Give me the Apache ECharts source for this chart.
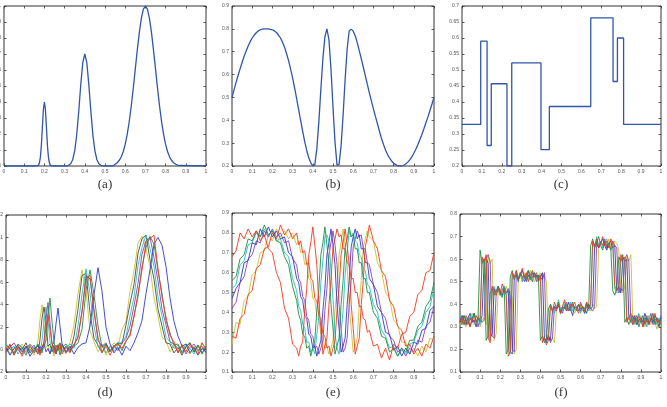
<!DOCTYPE html>
<html>
<head>
<meta charset="utf-8">
<script src="https://cdn.jsdelivr.net/npm/echarts@6/dist/echarts.min.js"></script>
<style>
html, body { margin: 0; background: #fff; }
#main { width: 667px; height: 407px; }
</style>
</head>
<body>
<div id="main"></div>
<script>
// ---- shared sample grid (b, f) ----
var x100 = [0,0.01,0.02,0.03,0.04,0.05,0.06,0.07,0.08,0.09,0.1,0.11,0.12,0.13,0.14,0.15,0.16,0.17,0.18,0.19,
  0.2,0.21,0.22,0.23,0.24,0.25,0.26,0.27,0.28,0.29,0.3,0.31,0.32,0.33,0.34,0.35,0.36,0.37,0.38,0.39,
  0.4,0.41,0.42,0.43,0.44,0.45,0.46,0.47,0.48,0.49,0.5,0.51,0.52,0.53,0.54,0.55,0.56,0.57,0.58,0.59,
  0.6,0.61,0.62,0.63,0.64,0.65,0.66,0.67,0.68,0.69,0.7,0.71,0.72,0.73,0.74,0.75,0.76,0.77,0.78,0.79,
  0.8,0.81,0.82,0.83,0.84,0.85,0.86,0.87,0.88,0.89,0.9,0.91,0.92,0.93,0.94,0.95,0.96,0.97,0.98,0.99,1];

// ---- (a) bumps ----
var aX = [0,0.16,0.17,0.175,0.18,0.185,0.19,0.195,0.2,0.205,0.21,0.215,0.22,0.225,0.23,0.24,
  0.31,0.32,0.33,0.34,0.35,0.36,0.37,0.38,0.39,0.4,0.41,0.42,0.43,0.44,0.45,0.46,0.47,0.48,0.49,
  0.54,0.55,0.56,0.57,0.58,0.59,0.6,0.61,0.62,0.63,0.64,0.65,0.66,0.67,0.68,0.69,0.7,0.71,0.72,0.73,
  0.74,0.75,0.76,0.77,0.78,0.79,0.8,0.81,0.82,0.83,0.84,0.85,0.86,0.87,1];
var aY = [0,0,0.004,0.018,0.054,0.13,0.243,0.353,0.4,0.353,0.243,0.13,0.054,0.018,0.004,0,
  0,0.004,0.014,0.039,0.095,0.195,0.341,0.508,0.646,0.7,0.646,0.508,0.341,0.195,0.095,0.039,0.014,0.004,0,
  0,0.011,0.02,0.034,0.056,0.089,0.135,0.198,0.278,0.375,0.487,0.607,0.726,0.835,0.923,0.98,1,0.98,0.923,0.835,
  0.726,0.607,0.487,0.375,0.278,0.198,0.135,0.089,0.056,0.034,0.02,0.011,0.006,0.003,0];

// ---- (b) chirp ----
var bY = [0.5,0.533,0.565,0.596,0.625,0.653,0.68,0.703,0.725,0.744,
  0.76,0.773,0.783,0.791,0.796,0.799,0.8,0.8,0.8,0.798,
  0.796,0.791,0.784,0.773,0.76,0.742,0.72,0.692,0.661,0.625,
  0.586,0.542,0.495,0.446,0.398,0.351,0.307,0.268,0.236,0.214,
  0.201,0.206,0.276,0.394,0.536,0.67,0.766,0.8,0.752,0.624,
  0.457,0.304,0.204,0.206,0.288,0.422,0.578,0.712,0.79,0.799,
  0.79,0.77,0.74,0.705,0.67,0.632,0.595,0.557,0.52,0.485,
  0.45,0.417,0.385,0.352,0.32,0.294,0.27,0.25,0.235,0.222,
  0.212,0.206,0.202,0.2,0.2,0.203,0.209,0.217,0.227,0.24,
  0.256,0.273,0.293,0.315,0.338,0.363,0.389,0.415,0.443,0.471,
  0.5];

// ---- (c) blocks ----
var cX = [0,0.094,0.126,0.147,0.226,0.25,0.397,0.439,0.647,0.759,0.781,0.812,1];
var cY = [0.33,0.59,0.264,0.457,0.2,0.522,0.251,0.386,0.663,0.464,0.6,0.33,0.33];

// ---- (d) noisy shifted bumps ----
var dX = [0,0.02,0.04,0.06,0.08,0.1,0.12,0.14,0.16,0.17,0.18,0.19,0.2,0.21,0.22,0.23,0.24,0.25,0.26,0.27,0.28,
  0.3,0.32,0.34,0.36,0.38,0.4,0.42,0.44,0.46,0.48,0.5,0.52,0.54,0.56,0.58,0.6,0.62,0.64,0.66,0.68,
  0.7,0.72,0.74,0.76,0.78,0.8,0.82,0.84,0.86,0.88,0.9,0.92,0.94,0.96,0.98,1];
var dYellow = [0.03,-0.04,0.02,-0.01,0.05,-0.03,0.01,-0.05,0.08,0.27,0.4,0.22,0.02,0.04,-0.03,0.02,-0.06,0.01,0.05,-0.02,0.03,
  -0.04,0.06,0.22,0.5,0.71,0.52,0.17,0.07,-0.02,0.04,-0.05,0.02,0.06,0.03,0.18,0.25,0.52,0.7,0.95,1.01,
  0.9,0.74,0.46,0.3,0.11,0.08,-0.02,0.04,-0.03,0.05,0,-0.04,0.03,-0.02,0.06,0.01];
var dGray = [-0.02,0.04,-0.05,0.02,0,0.06,-0.03,0.02,-0.04,0.09,0.28,0.38,0.26,0.03,0.05,-0.02,0.03,-0.04,0.02,0.06,-0.01,
  0.03,-0.02,0.12,0.36,0.66,0.68,0.33,0.1,0.04,-0.03,0.05,-0.01,0.03,0.06,0.05,0.22,0.41,0.58,0.86,0.99,
  1.02,0.8,0.63,0.36,0.21,0.06,0.05,-0.03,0.02,-0.05,0.03,0.06,-0.02,0.04,-0.03,0.02];
var dCyan = [0.05,0,0.03,-0.04,0.02,-0.02,0.05,0.01,0.03,-0.02,0.08,0.25,0.38,0.26,0.07,-0.01,0.04,-0.03,0.01,0.05,-0.02,
  0.02,0.05,0.01,0.21,0.49,0.72,0.5,0.21,0.02,0.05,-0.03,0.03,-0.01,0.04,0.07,0.12,0.3,0.47,0.75,0.91,
  1.02,0.9,0.74,0.47,0.3,0.11,0.07,0.01,0.04,-0.02,0.05,0.01,-0.04,0.03,0,0.04];
var dMagenta = [-0.03,0.02,0.06,0,-0.04,0.03,-0.01,0.04,-0.02,0.03,-0.01,0.07,0.27,0.42,0.24,0.05,0.02,-0.04,0.03,0,0.05,
  -0.03,0.02,0.04,0.12,0.33,0.66,0.63,0.36,0.08,0.03,0.06,-0.02,0.04,-0.01,0.06,0.1,0.21,0.39,0.59,0.85,
  0.97,1,0.82,0.61,0.36,0.22,0.07,0.05,-0.02,0.03,-0.04,0.02,0.05,-0.01,0.03,-0.03];
var dBlue = [0.02,-0.05,0.01,0.04,-0.02,0.03,-0.06,0,0.04,-0.03,0.02,0.05,-0.02,0.01,-0.04,0.03,0.07,0.23,0.37,0.21,0.05,
  -0.02,0.03,-0.04,0.02,0.05,0.06,0.21,0.49,0.73,0.52,0.2,0.05,-0.03,0.02,-0.05,0.03,-0.01,0.06,0.15,0.26,
  0.5,0.71,0.94,1,0.93,0.74,0.46,0.25,0.12,0.03,0.05,-0.03,0.02,-0.05,0.01,-0.02];
var dGreen = [0.04,0.01,-0.03,0.05,0.02,-0.05,0.03,-0.02,0.05,0,-0.03,0.04,0.08,0.29,0.46,0.25,0.07,-0.02,0.04,-0.05,0.02,
  0.05,-0.01,0.03,0.06,0.18,0.53,0.71,0.49,0.21,0.02,0.05,-0.02,0.03,0.06,-0.01,0.07,0.14,0.3,0.47,0.74,
  0.91,1.01,0.94,0.7,0.5,0.26,0.15,0.04,0.05,-0.03,0.02,0.06,-0.02,0.04,-0.04,0.03];
var dRed = [-0.01,0.05,-0.04,0.03,-0.06,0.02,0.04,-0.03,0.01,-0.05,0.03,0.06,0.2,0.31,0.18,0.06,-0.03,0.04,-0.01,0.05,-0.04,
  0.02,-0.03,0.05,0.1,0.35,0.63,0.66,0.33,0.11,-0.02,0.03,-0.05,0.02,0.05,0.01,0.08,0.12,0.29,0.5,0.71,
  0.95,0.99,1.02,0.72,0.47,0.29,0.12,0.07,-0.03,0.04,-0.02,0.05,0.01,-0.04,0.06,0];

// ---- (e) noisy shifted chirps ----
var eX = [0,0.02,0.04,0.06,0.08,0.1,0.12,0.14,0.16,0.18,0.2,0.22,0.24,0.26,0.28,0.3,0.32,
  0.33,0.34,0.35,0.36,0.37,0.38,0.39,0.4,0.41,0.42,0.43,0.44,0.45,0.46,0.47,0.48,0.49,0.5,
  0.51,0.52,0.53,0.54,0.55,0.56,0.57,0.58,0.59,0.6,0.61,0.62,0.63,0.64,0.65,0.66,0.67,0.68,
  0.7,0.72,0.74,0.76,0.78,0.8,0.82,0.84,0.86,0.88,0.9,0.92,0.94,0.96,0.98,1];
var eYellow = [0.24,0.35,0.34,0.46,0.48,0.59,0.61,0.7,0.71,0.79,0.76,0.82,0.78,0.81,0.77,0.8,0.74,
  0.76,0.7,0.71,0.64,0.65,0.57,0.56,0.47,0.46,0.38,0.37,0.29,0.28,0.22,0.23,0.19,0.22,0.26,
  0.41,0.52,0.69,0.75,0.82,0.74,0.64,0.44,0.32,0.2,0.23,0.27,0.44,0.56,0.73,0.77,0.81,0.78,
  0.76,0.65,0.61,0.5,0.47,0.36,0.34,0.25,0.25,0.19,0.22,0.18,0.23,0.2,0.27,0.26];
var eMagenta = [0.42,0.45,0.55,0.58,0.67,0.69,0.76,0.75,0.81,0.78,0.82,0.78,0.8,0.75,0.76,0.67,0.64,
  0.57,0.55,0.48,0.46,0.38,0.36,0.29,0.28,0.22,0.23,0.19,0.22,0.26,0.41,0.52,0.69,0.75,0.81,
  0.74,0.64,0.44,0.32,0.2,0.22,0.27,0.44,0.56,0.73,0.77,0.81,0.78,0.79,0.72,0.72,0.65,0.64,
  0.54,0.5,0.4,0.37,0.28,0.26,0.2,0.22,0.18,0.22,0.2,0.26,0.25,0.33,0.35,0.43];
var eCyan = [0.52,0.54,0.64,0.66,0.74,0.75,0.8,0.78,0.82,0.79,0.81,0.76,0.77,0.7,0.68,0.57,0.51,
  0.43,0.41,0.34,0.32,0.25,0.25,0.2,0.22,0.19,0.29,0.38,0.55,0.66,0.78,0.79,0.76,0.61,0.47,
  0.29,0.22,0.19,0.3,0.41,0.59,0.7,0.81,0.78,0.8,0.76,0.75,0.69,0.68,0.62,0.61,0.54,0.53,
  0.44,0.4,0.31,0.28,0.22,0.23,0.18,0.21,0.19,0.24,0.25,0.31,0.33,0.4,0.43,0.52];
var eBlue = [0.47,0.52,0.55,0.65,0.66,0.75,0.74,0.82,0.78,0.83,0.78,0.81,0.77,0.78,0.7,0.68,0.57,
  0.55,0.48,0.46,0.38,0.37,0.29,0.28,0.22,0.23,0.18,0.22,0.26,0.41,0.52,0.69,0.75,0.82,0.74,
  0.64,0.44,0.32,0.2,0.23,0.27,0.44,0.56,0.73,0.78,0.82,0.77,0.79,0.72,0.72,0.65,0.65,0.57,
  0.54,0.43,0.4,0.3,0.29,0.21,0.23,0.18,0.22,0.19,0.25,0.24,0.31,0.32,0.41,0.43];
var eGreen = [0.56,0.58,0.67,0.69,0.77,0.76,0.81,0.78,0.84,0.79,0.81,0.76,0.75,0.68,0.64,0.53,0.46,
  0.39,0.36,0.29,0.28,0.22,0.23,0.18,0.22,0.26,0.41,0.52,0.69,0.75,0.83,0.74,0.64,0.44,0.32,
  0.19,0.23,0.27,0.44,0.56,0.73,0.77,0.83,0.78,0.79,0.72,0.72,0.65,0.65,0.57,0.57,0.5,0.5,
  0.4,0.37,0.28,0.27,0.2,0.22,0.18,0.22,0.2,0.26,0.26,0.33,0.35,0.43,0.46,0.55];
var eRed1 = [0.68,0.71,0.8,0.77,0.82,0.78,0.81,0.76,0.79,0.72,0.7,0.6,0.55,0.42,0.37,0.24,0.22,
  0.18,0.23,0.25,0.41,0.52,0.69,0.75,0.83,0.74,0.64,0.44,0.32,0.19,0.23,0.27,0.44,0.56,0.73,
  0.77,0.82,0.78,0.79,0.72,0.72,0.65,0.64,0.57,0.57,0.5,0.5,0.43,0.43,0.37,0.36,0.3,0.31,
  0.23,0.24,0.17,0.22,0.16,0.24,0.22,0.29,0.3,0.38,0.4,0.49,0.51,0.6,0.61,0.7];
var eRed2 = [0.28,0.27,0.37,0.39,0.49,0.51,0.62,0.64,0.72,0.73,0.8,0.77,0.84,0.79,0.82,0.77,0.8,
  0.74,0.76,0.7,0.71,0.64,0.65,0.57,0.56,0.47,0.46,0.38,0.37,0.29,0.28,0.22,0.23,0.18,0.22,
  0.26,0.41,0.52,0.69,0.75,0.82,0.74,0.64,0.44,0.32,0.19,0.23,0.27,0.44,0.56,0.73,0.78,0.84,
  0.76,0.72,0.61,0.58,0.46,0.43,0.33,0.31,0.23,0.24,0.19,0.22,0.18,0.24,0.22,0.28];

// ---- (f) noisy shifted blocks (on x100) ----
var fYellow = [0.31,0.35,0.32,0.3,0.34,0.33,0.36,0.31,0.32,0.35,0.3,0.33,0.34,0.31,
  0.61,0.58,0.6, 0.24,0.27, 0.46,0.44,0.47,0.45,0.48,0.44,0.46,0.43, 0.18,0.2,
  0.51,0.53,0.5,0.54,0.52,0.51,0.55,0.52,0.5,0.53,0.52,0.54,0.51,0.53,0.5, 0.26,0.24,0.25,0.23,
  0.38,0.4,0.37,0.39,0.41,0.38,0.37,0.4,0.39,0.36,0.38,0.4,0.39,0.37,0.38,0.41,0.39,0.37,0.4,0.38,0.39,
  0.65,0.68,0.66,0.67,0.64,0.69,0.66,0.65,0.68,0.67,0.64, 0.47,0.45,0.48, 0.61,0.59,0.62,
  0.32,0.34,0.31,0.33,0.35,0.32,0.3,0.34,0.33,0.31,0.35,0.32,0.29,0.33,0.3];
var fMagenta = [0.34,0.32,0.35,0.33,0.31,0.34,0.32,0.36,0.33,0.3,0.34,0.32,0.33,
  0.6,0.62,0.59, 0.26,0.25, 0.45,0.47,0.44,0.46,0.48,0.45,0.47,0.44, 0.2,0.19,
  0.53,0.51,0.54,0.52,0.5,0.53,0.55,0.51,0.52,0.54,0.5,0.53,0.52,0.51,0.54, 0.24,0.26,0.23,0.25,
  0.39,0.37,0.4,0.38,0.36,0.39,0.41,0.38,0.37,0.4,0.38,0.39,0.37,0.41,0.38,0.36,0.39,0.4,0.38,0.37,0.39,
  0.67,0.65,0.68,0.66,0.69,0.65,0.67,0.64,0.68,0.66,0.65, 0.45,0.47,0.46, 0.6,0.62,0.59,
  0.33,0.31,0.34,0.32,0.35,0.33,0.3,0.34,0.32,0.33,0.36,0.31,0.33,0.34,0.32,0.35];
var fBlue = [0.32,0.35,0.33,0.31,0.34,0.36,0.32,0.33,0.3,0.34,0.32,0.35,
  0.59,0.61,0.58, 0.25,0.27, 0.47,0.45,0.48,0.46,0.44,0.47,0.45,0.46, 0.19,0.18,
  0.52,0.54,0.51,0.53,0.55,0.52,0.5,0.53,0.51,0.54,0.52,0.53,0.5,0.52,0.54, 0.25,0.23,0.26,0.24,
  0.37,0.39,0.38,0.4,0.36,0.38,0.39,0.37,0.41,0.38,0.35,0.39,0.38,0.4,0.37,0.39,0.38,0.36,0.4,0.38,0.39,
  0.66,0.68,0.65,0.67,0.69,0.66,0.64,0.67,0.68,0.65,0.66, 0.46,0.48,0.45, 0.61,0.59,0.6,
  0.34,0.32,0.33,0.35,0.31,0.33,0.34,0.32,0.36,0.33,0.31,0.34,0.32,0.35,0.33,0.3,0.34];
var fCyan = [0.35,0.33,0.31,0.34,0.32,0.35,0.33,0.36,0.32,0.34,0.31,
  0.6,0.58,0.61, 0.26,0.24, 0.46,0.48,0.45,0.47,0.44,0.46,0.48,0.45, 0.2,0.18,
  0.53,0.51,0.55,0.52,0.54,0.5,0.53,0.52,0.55,0.51,0.53,0.54,0.52,0.5,0.53, 0.26,0.24,0.25,0.27,
  0.4,0.38,0.36,0.39,0.42,0.38,0.37,0.4,0.39,0.38,0.41,0.37,0.39,0.38,0.4,0.36,0.39,0.38,0.41,0.37,0.39,
  0.67,0.65,0.7,0.66,0.68,0.65,0.67,0.69,0.66,0.64,0.67, 0.47,0.45,0.46, 0.59,0.61,0.6,
  0.33,0.35,0.32,0.34,0.31,0.33,0.36,0.32,0.34,0.33,0.3,0.35,0.32,0.34,0.33,0.31,0.34,0.32];
var fGreen = [0.33,0.31,0.35,0.32,0.34,0.3,0.33,0.36,0.32,0.34,
  0.64,0.58,0.6, 0.24,0.26, 0.45,0.47,0.44,0.46,0.48,0.45,0.43,0.47, 0.18,0.2,
  0.52,0.55,0.51,0.53,0.5,0.54,0.52,0.53,0.51,0.55,0.52,0.5,0.54,0.52,0.53, 0.24,0.26,0.23,0.25,
  0.38,0.4,0.37,0.39,0.38,0.41,0.36,0.39,0.38,0.4,0.37,0.39,0.41,0.38,0.37,0.4,0.38,0.39,0.36,0.4,0.38,
  0.66,0.69,0.65,0.67,0.7,0.66,0.64,0.68,0.66,0.67,0.65, 0.46,0.44,0.47, 0.61,0.59,0.62,
  0.32,0.34,0.31,0.33,0.35,0.32,0.34,0.3,0.33,0.35,0.31,0.34,0.32,0.33,0.36,0.31,0.34,0.32,0.33];
var fRed = [0.32,0.34,0.31,0.35,0.33,0.3,0.34,0.32,0.35,0.33,0.34,
  0.61,0.59,0.62, 0.25,0.23, 0.48,0.46,0.44,0.47,0.45,0.49,0.46,0.44, 0.17,0.19,
  0.54,0.52,0.55,0.51,0.53,0.56,0.52,0.54,0.5,0.53,0.55,0.52,0.54,0.51,0.53, 0.23,0.25,0.22,0.24,
  0.39,0.37,0.41,0.38,0.4,0.36,0.39,0.42,0.38,0.37,0.4,0.39,0.41,0.38,0.36,0.4,0.39,0.37,0.41,0.38,0.4,
  0.68,0.66,0.69,0.65,0.67,0.7,0.66,0.68,0.65,0.69,0.67, 0.48,0.46,0.47, 0.62,0.6,0.61,
  0.32,0.34,0.36,0.31,0.33,0.35,0.32,0.34,0.3,0.33,0.35,0.31,0.34,0.33,0.36,0.32,0.33,0.31];

var captions = ['(a)', '(b)', '(c)', '(d)', '(e)', '(f)'];

// matlab-ish colours
var C = {
  line: '#2f56a8',
  b: '#2a3cc4', g: '#1f8c3f', r: '#f2381e', c: '#22bfc0',
  m: '#9040b0', y: '#c8c428', k: '#4a4a4a'
};

var grids = [], xAxes = [], yAxes = [], series = [];

function addPanel(left, top, width, height, yMin, yMax, yStep) {
  var g = grids.length;
  grids.push({left: left, top: top, width: width, height: height,
    outerBoundsMode: 'none', containLabel: false,
    show: true, borderColor: '#333', borderWidth: 1, backgroundColor: 'transparent'});
  var tick = {show: true, inside: true, length: 2.5, lineStyle: {color: '#333', width: 0.8}};
  var lab = {fontSize: 5, color: '#555', margin: 3, fontFamily: 'Liberation Sans'};
  var base = {gridIndex: g, type: 'value', axisTick: tick, splitLine: {show: false},
    axisLine: {show: false, onZero: false}};
  xAxes.push(Object.assign({}, base, {min: 0, max: 1, interval: 0.1, position: 'bottom', axisLabel: lab}));
  xAxes.push(Object.assign({}, base, {min: 0, max: 1, interval: 0.1, position: 'top', axisLabel: {show: false}}));
  yAxes.push(Object.assign({}, base, {min: yMin, max: yMax, interval: yStep, position: 'left', axisLabel: lab}));
  yAxes.push(Object.assign({}, base, {min: yMin, max: yMax, interval: yStep, position: 'right', axisLabel: {show: false}}));
  return g;
}

function addLine(g, xs, ys, color, width, step) {
  series.push({
    type: 'line', xAxisIndex: 2 * g, yAxisIndex: 2 * g,
    data: xs.map(function (x, i) { return [x, ys[i]]; }),
    showSymbol: false, symbol: 'none', step: step || false,
    lineStyle: {color: color, width: width}, itemStyle: {color: color},
    silent: true, clip: true
  });
}

var pa = addPanel(4, 6, 202, 160, 0, 1, 0.1);
var pb = addPanel(232, 6, 202, 160, 0.2, 0.9, 0.1);
var pc = addPanel(462, 6, 199, 160, 0.2, 0.7, 0.05);
var pd = addPanel(6, 215, 200, 157, -0.2, 1.2, 0.2);
var pe = addPanel(232, 213, 202, 159, 0.1, 0.9, 0.1);
var pf = addPanel(460, 214, 201, 158, 0.1, 0.8, 0.1);

addLine(pa, aX, aY, C.line, 1.3);
addLine(pb, x100, bY, C.line, 1.3);
addLine(pc, cX, cY, C.line, 1.3, 'end');

addLine(pd, dX, dYellow, C.y, 0.9);
addLine(pd, dX, dGray, C.k, 0.9);
addLine(pd, dX, dCyan, C.c, 0.9);
addLine(pd, dX, dMagenta, C.m, 0.9);
addLine(pd, dX, dBlue, C.b, 0.9);
addLine(pd, dX, dGreen, C.g, 0.9);
addLine(pd, dX, dRed, C.r, 0.9);

addLine(pe, eX, eYellow, C.y, 0.9);
addLine(pe, eX, eMagenta, C.m, 0.9);
addLine(pe, eX, eCyan, C.c, 0.9);
addLine(pe, eX, eBlue, C.b, 0.9);
addLine(pe, eX, eGreen, C.g, 0.9);
addLine(pe, eX, eRed1, C.r, 0.9);
addLine(pe, eX, eRed2, C.r, 0.9);

addLine(pf, x100, fYellow, C.y, 0.9);
addLine(pf, x100, fMagenta, C.m, 0.9);
addLine(pf, x100, fBlue, C.b, 0.9);
addLine(pf, x100, fCyan, C.c, 0.9);
addLine(pf, x100, fGreen, C.g, 0.9);
addLine(pf, x100, fRed, C.r, 0.9);

// captions under each panel
var capPos = [[105, 178], [333, 178], [561, 178], [105, 386], [333, 386], [561, 386]];
var graphics = captions.map(function (t, i) {
  return {type: 'text', x: capPos[i][0], y: capPos[i][1],
    style: {text: t, fill: '#333', font: '13px "Liberation Serif"', textAlign: 'center', textVerticalAlign: 'top'}};
});

var chart = echarts.init(document.getElementById('main'), null, {renderer: 'canvas'});
chart.setOption({
  animation: false,
  backgroundColor: '#fff',
  grid: grids,
  xAxis: xAxes,
  yAxis: yAxes,
  series: series,
  graphic: graphics
});
</script>
</body>
</html>
